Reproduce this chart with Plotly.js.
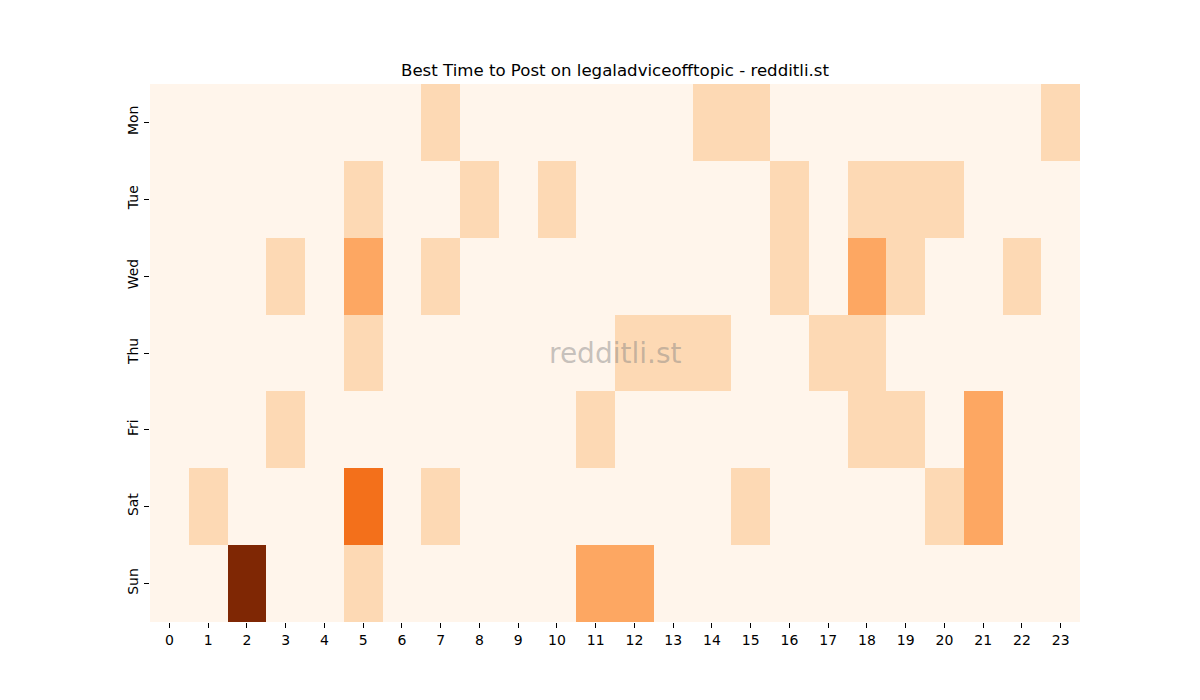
<!DOCTYPE html>
<html>
<head>
<meta charset="utf-8">
<script src="https://cdn.plot.ly/plotly-3.0.1.min.js"></script>
<style>
  body { margin: 0; background: #fff; }
  #myDiv { width: 1200px; height: 700px; }
</style>
</head>
<body>
<div id="myDiv"></div>
<script>
// posts per weekday / hour
var hours = [];
for (var h = 0; h < 24; h++) hours.push(h);
var days = ['Mon', 'Tue', 'Wed', 'Thu', 'Fri', 'Sat', 'Sun'];

var mon = [0,0,0,0,0,0,0,1,0,0,0,0,0,0,1,1,0,0,0,0,0,0,0,1];
var tue = [0,0,0,0,0,1,0,0,1,0,1,0,0,0,0,0,1,0,1,1,1,0,0,0];
var wed = [0,0,0,1,0,2,0,1,0,0,0,0,0,0,0,0,1,0,2,1,0,0,1,0];
var thu = [0,0,0,0,0,1,0,0,0,0,0,0,1,1,1,0,0,1,1,0,0,0,0,0];
var fri = [0,0,0,1,0,0,0,0,0,0,0,1,0,0,0,0,0,0,1,1,0,2,0,0];
var sat = [0,1,0,0,0,3,0,1,0,0,0,0,0,0,0,1,0,0,0,0,1,2,0,0];
var sun = [0,0,5,0,0,1,0,0,0,0,0,2,2,0,0,0,0,0,0,0,0,0,0,0];

// matplotlib "Oranges"
var oranges = ['#fff5eb','#fee6ce','#fdd0a2','#fdae6b','#fd8d3c','#f16913','#d94801','#a63603','#7f2704'];
var colorscale = oranges.map(function(c, i) { return [i / (oranges.length - 1), c]; });

var font = 'DejaVu Sans, sans-serif';

var trace = {
  type: 'heatmap',
  x: hours,
  y: days,
  z: [mon, tue, wed, thu, fri, sat, sun],
  zmin: 0,
  zmax: 5,
  colorscale: colorscale,
  showscale: false,
  xgap: 0,
  ygap: 0,
  hoverinfo: 'x+y+z'
};

var layout = {
  width: 1200,
  height: 700,
  margin: {l: 150, r: 120, t: 84, b: 78},
  paper_bgcolor: '#ffffff',
  plot_bgcolor: '#ffffff',
  font: {family: font, size: 14, color: '#000'},
  title: {
    text: 'Best Time to Post on legaladviceofftopic - redditli.st',
    font: {family: font, size: 16.6, color: '#000'},
    x: 0.5,
    xref: 'paper',
    xanchor: 'center',
    y: 0.9,
    yref: 'container',
    yanchor: 'middle'
  },
  xaxis: {
    range: [-0.5, 23.5],
    tickvals: hours,
    ticktext: hours.map(String),
    ticks: 'outside',
    ticklen: 5,
    tickwidth: 1,
    tickcolor: '#000',
    showgrid: false,
    zeroline: false,
    showline: false,
    tickfont: {family: font, size: 14, color: '#000'}
  },
  yaxis: {
    type: 'category',
    autorange: 'reversed',
    ticks: 'outside',
    ticklen: 5,
    tickwidth: 1,
    tickcolor: '#000',
    tickangle: -90,
    showgrid: false,
    zeroline: false,
    showline: false,
    tickfont: {family: font, size: 14, color: '#000'}
  },
  annotations: [{
    text: 'redditli.st',
    xref: 'paper',
    yref: 'paper',
    x: 0.5,
    y: 0.5,
    xanchor: 'center',
    yanchor: 'middle',
    showarrow: false,
    font: {family: font, size: 28, color: 'rgba(128,128,128,0.45)'}
  }]
};

Plotly.newPlot('myDiv', [trace], layout, {displayModeBar: false, staticPlot: true});
</script>
</body>
</html>
